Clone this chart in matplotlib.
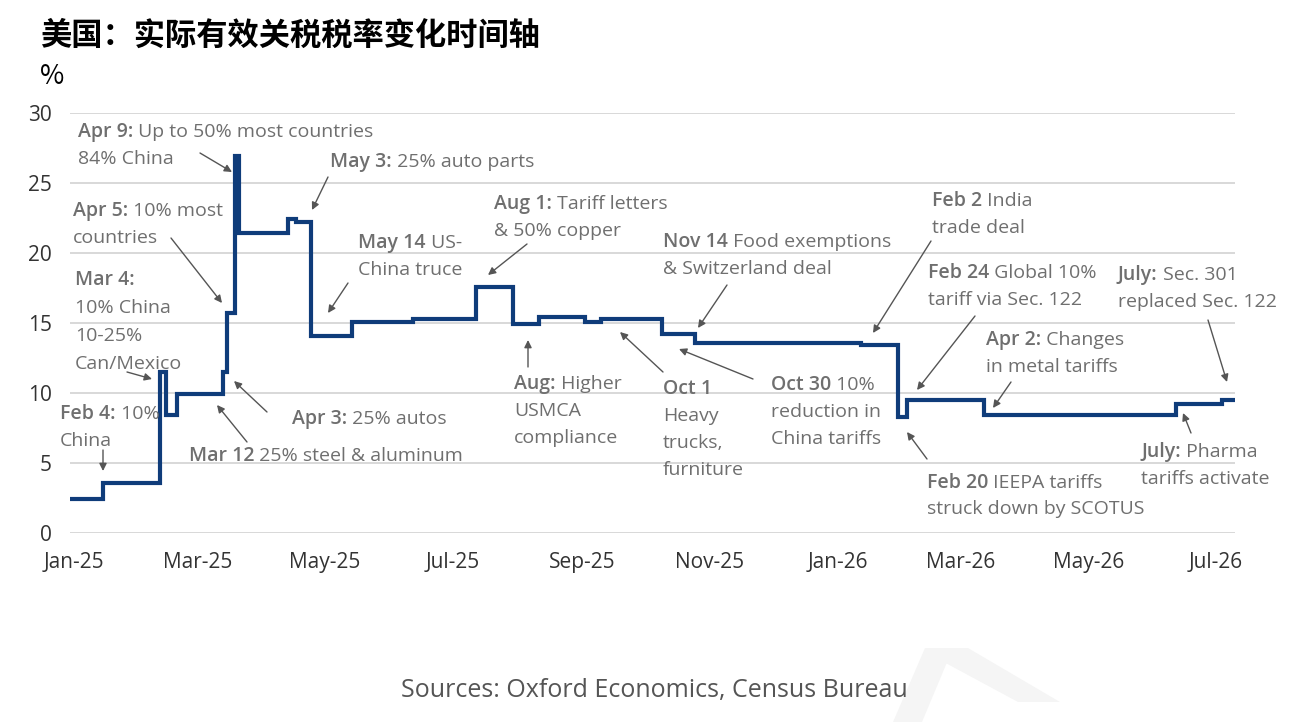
import matplotlib
matplotlib.use("Agg")
import matplotlib.pyplot as plt
import matplotlib.dates as mdates
from matplotlib.patches import Polygon
import pandas as pd

# effective tariff rate, % (step changes)
change_dates = ["2024-12-30", "2025-01-15", "2025-02-11", "2025-02-14", "2025-02-19",
                "2025-03-13", "2025-03-15", "2025-03-19", "2025-03-21", "2025-04-13",
                "2025-04-17", "2025-04-24", "2025-05-14", "2025-06-12", "2025-07-12",
                "2025-07-30", "2025-08-11", "2025-09-02", "2025-09-10", "2025-10-09",
                "2025-10-25", "2026-01-12", "2026-01-30", "2026-02-03", "2026-03-12",
                "2026-06-12", "2026-07-04", "2026-07-10"]
rates = [2.4, 3.6, 11.5, 8.4, 9.9,
         11.5, 15.7, 26.9, 21.4, 22.4,
         22.2, 14.1, 15.1, 15.3, 17.6,
         14.9, 15.4, 15.1, 15.3, 14.2,
         13.6, 13.4, 8.3, 9.5, 8.4,
         9.2, 9.5, 9.5]
y_ticks = [0, 5, 10, 15, 20, 25, 30]

title = "美国：实际有效关税税率变化时间轴"
unit = "%"
source = "Sources: Oxford Economics, Census Bureau"

W, H = 1306, 722
FONT = ["Open Sans", "DejaVu Sans"]
NOTE_C = "#6f6f6f"
NOTE_FS = 14
LINE_C = "#0f3c7a"

fig = plt.figure(figsize=(W / 100, H / 100), dpi=100)
ax = fig.add_axes([70 / W, (H - 533) / H, (1235 - 70) / W, 420 / H])

dates = pd.to_datetime(change_dates)
ax.plot(dates, rates, drawstyle="steps-post", color=LINE_C, lw=3.0,
        solid_joinstyle="miter", zorder=3)

ax.set_ylim(0, 30)
ax.set_yticks(y_ticks)
ax.set_xlim(dates[0], dates[-1])
ax.xaxis.set_major_locator(mdates.MonthLocator(bymonth=[1, 3, 5, 7, 9, 11]))
ax.xaxis.set_major_formatter(mdates.DateFormatter("%b-%y"))
ax.yaxis.grid(True, color="#d5d5d5", lw=1.3)
ax.set_axisbelow(True)
for s in ax.spines.values():
    s.set_visible(False)
ax.tick_params(length=0, labelsize=15, labelcolor="#333333")
ax.tick_params(axis="y", pad=13)
ax.tick_params(axis="x", pad=14)
for lab in ax.get_xticklabels() + ax.get_yticklabels():
    lab.set_family(FONT)


def note(x, y, head, first="", others=(), step=27):
    # bold date prefix, regular text after it; y is the line centre in picture pixels
    yb = 1 - (y + 6) / H
    t = fig.text(x / W, yb, head, fontsize=NOTE_FS, fontweight="semibold", color=NOTE_C,
                 family=FONT, va="baseline", ha="left")
    if first:
        ax.annotate(" " + first, xy=(1, yb), xycoords=(t, "figure fraction"),
                    fontsize=NOTE_FS, color=NOTE_C, family=FONT,
                    va="baseline", ha="left", annotation_clip=False)
    for i, line in enumerate(others, 1):
        fig.text(x / W, 1 - (y + 6 + i * step) / H, line, fontsize=NOTE_FS,
                 color=NOTE_C, family=FONT, va="baseline", ha="left")


def arrow(tail, tip):
    ax.annotate("", xy=(tip[0], H - tip[1]), xycoords="figure pixels",
                xytext=(tail[0], H - tail[1]), textcoords="figure pixels",
                arrowprops=dict(arrowstyle="-|>", color="#555555", lw=1.0,
                                mutation_scale=11, shrinkA=0, shrinkB=0),
                annotation_clip=False)


note(78, 131, "Apr 9:", "Up to 50% most countries", ["84% China"])
arrow((200, 153), (232, 172))
note(330, 161, "May 3:", "25% auto parts")
arrow((328, 177), (312, 210))
note(73, 210, "Apr 5:", "10% most", ["countries"])
arrow((171, 238), (222, 303))
note(75, 279, "Mar 4:", "", ["10% China", "10-25%", "Can/Mexico"], step=28)
arrow((127, 372), (152, 379))
note(60, 413, "Feb 4:", "10%", ["China"])
arrow((103, 450), (103, 471))
note(189, 455, "Mar 12", "25% steel & aluminum")
arrow((247, 442), (217, 405))
note(292, 418, "Apr 3:", "25% autos")
arrow((267, 412), (234, 381))
note(358, 242, "May 14", "US-", ["China truce"])
arrow((348, 283), (328, 313))
note(494, 203, "Aug 1:", "Tariff letters", ["& 50% copper"])
arrow((527, 244), (488, 275))
note(514, 383, "Aug:", "Higher", ["USMCA", "compliance"])
arrow((528, 367), (528, 340))
note(663, 388, "Oct 1", "", ["Heavy", "trucks,", "furniture"])
arrow((663, 372), (620, 332))
note(663, 241, "Nov 14", "Food exemptions", ["& Switzerland deal"])
arrow((727, 285), (698, 328))
note(771, 384, "Oct 30", "10%", ["reduction in", "China tariffs"])
arrow((753, 379), (679, 349))
note(932, 200, "Feb 2", "India", ["trade deal"])
arrow((931, 241), (873, 333))
note(928, 272, "Feb 24", "Global 10%", ["tariff via Sec. 122"])
arrow((975, 316), (917, 390))
note(1118, 274, "July:", "Sec. 301", ["replaced Sec. 122"])
arrow((1208, 320), (1227, 382))
note(986, 339, "Apr 2:", "Changes", ["in metal tariffs"])
arrow((1011, 382), (993, 408))
note(927, 482, "Feb 20", "IEEPA tariffs", ["struck down by SCOTUS"], step=26)
arrow((927, 459), (907, 432))
note(1141, 451, "July:", "Pharma", ["tariffs activate"])
arrow((1191, 433), (1183, 413))

fig.text(40 / W, 1 - 36 / H, title, fontsize=22.5, fontweight="bold", color="black",
         family=["Noto Sans CJK SC", "DejaVu Sans"], va="center", ha="left")
fig.text(40 / W, 1 - 77 / H, unit, fontsize=19, color="black",
         family=["Noto Sans CJK SC", "DejaVu Sans"], va="center", ha="left")
fig.text(654 / W, 1 - 690 / H, source, fontsize=18, color="#555555",
         family=FONT, va="center", ha="center")

# faint watermark shape in the lower right corner
for pts in ([(925, 648), (968, 648), (1060, 702), (1018, 702), (940, 660)],
            [(925, 648), (948, 660), (922, 722), (893, 722)]):
    fig.add_artist(Polygon([(px / W, 1 - py / H) for px, py in pts], closed=True,
                           transform=fig.transFigure, color="#f5f5f5", lw=0, zorder=0))

fig.savefig("out.png", dpi=100)
